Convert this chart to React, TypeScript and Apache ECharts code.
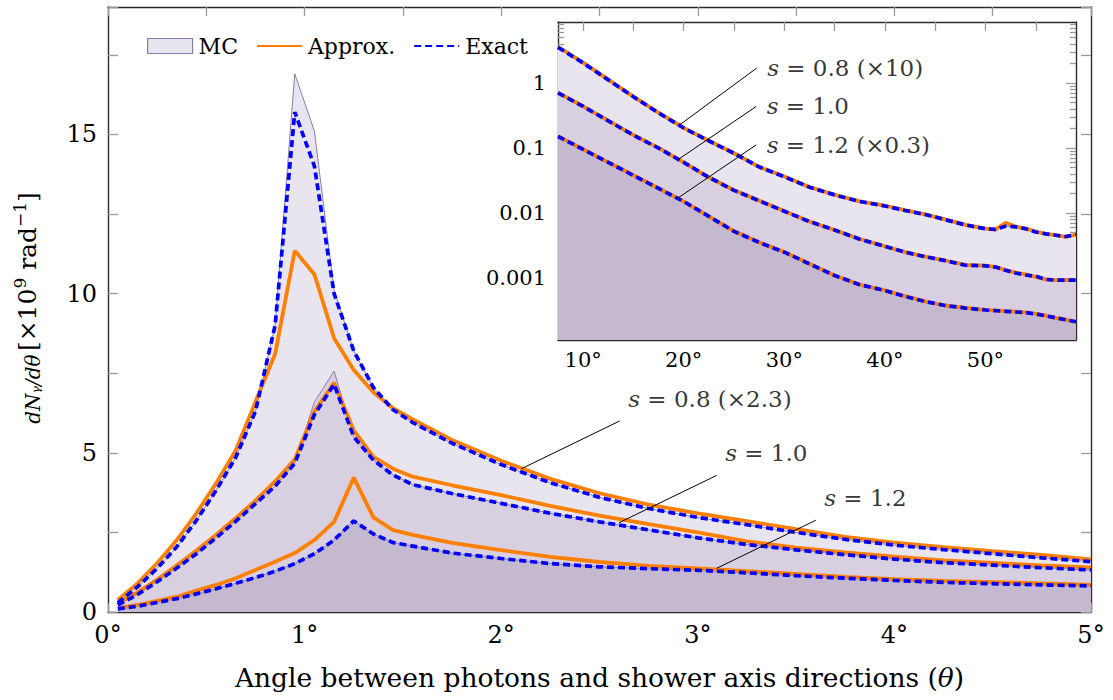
import React, { useEffect, useRef } from "react";
import * as echarts from "echarts";

const FONT = '"DejaVu Serif", "Liberation Serif", serif';

// ---------------- main panel data (theta in degrees, dN/dθ in 1e9 rad^-1)
const theta = [0.05, 0.15, 0.25, 0.35, 0.45, 0.55, 0.65, 0.75, 0.85, 0.95, 1.05, 1.15, 1.25, 1.35, 1.45, 1.55, 1.75, 2.0, 2.25, 2.5, 2.75, 3.0, 3.25, 3.5, 3.75, 4.0, 4.25, 4.5, 4.75, 5.0];

const mc08 = [0.29, 0.79, 1.37, 2.05, 2.88, 3.82, 4.86, 6.3, 9.0, 16.9, 15.1, 10.1, 8.2, 7.05, 6.35, 5.95, 5.3, 4.63, 4.06, 3.6, 3.25, 2.97, 2.74, 2.5, 2.28, 2.1, 1.96, 1.83, 1.7, 1.58];
const approx08 = [0.38, 0.9, 1.53, 2.26, 3.1, 4.04, 5.08, 6.6, 8.1, 11.35, 10.6, 8.6, 7.6, 6.9, 6.4, 6.05, 5.4, 4.75, 4.18, 3.73, 3.37, 3.1, 2.85, 2.6, 2.36, 2.18, 2.04, 1.91, 1.79, 1.65];
const exact08 = [0.29, 0.79, 1.37, 2.05, 2.88, 3.82, 4.86, 6.3, 9.0, 15.7, 14.0, 10.0, 8.2, 7.05, 6.35, 5.95, 5.3, 4.63, 4.06, 3.6, 3.25, 2.97, 2.74, 2.5, 2.28, 2.1, 1.96, 1.83, 1.7, 1.58];

const mc10 = [0.22, 0.55, 0.95, 1.38, 1.83, 2.33, 2.85, 3.4, 3.95, 4.67, 6.6, 7.56, 5.5, 4.77, 4.3, 4.0, 3.72, 3.41, 3.1, 2.83, 2.58, 2.33, 2.12, 1.95, 1.8, 1.66, 1.55, 1.47, 1.39, 1.32];
const approx10 = [0.27, 0.62, 1.02, 1.47, 1.93, 2.43, 2.95, 3.5, 4.1, 4.8, 6.3, 7.2, 5.7, 4.87, 4.5, 4.25, 3.98, 3.67, 3.33, 3.03, 2.76, 2.5, 2.22, 2.02, 1.87, 1.74, 1.62, 1.54, 1.46, 1.4];
const exact10 = [0.22, 0.55, 0.95, 1.38, 1.83, 2.33, 2.85, 3.4, 3.95, 4.67, 6.2, 7.15, 5.5, 4.77, 4.3, 4.0, 3.72, 3.41, 3.1, 2.83, 2.58, 2.33, 2.12, 1.95, 1.8, 1.66, 1.55, 1.47, 1.39, 1.32];

const mc12 = [0.1, 0.18, 0.3, 0.42, 0.57, 0.73, 0.9, 1.08, 1.28, 1.52, 1.83, 2.26, 2.86, 2.45, 2.18, 2.07, 1.85, 1.68, 1.52, 1.42, 1.36, 1.31, 1.23, 1.14, 1.06, 0.99, 0.93, 0.89, 0.85, 0.82];
const approx12 = [0.12, 0.22, 0.35, 0.48, 0.67, 0.85, 1.06, 1.32, 1.58, 1.85, 2.26, 2.83, 4.22, 2.97, 2.57, 2.42, 2.17, 1.94, 1.73, 1.57, 1.45, 1.37, 1.28, 1.2, 1.1, 1.03, 0.98, 0.94, 0.9, 0.85];
const exact12 = [0.1, 0.18, 0.3, 0.42, 0.57, 0.73, 0.9, 1.08, 1.28, 1.52, 1.83, 2.26, 2.86, 2.45, 2.18, 2.07, 1.85, 1.68, 1.52, 1.42, 1.36, 1.31, 1.23, 1.14, 1.06, 0.99, 0.93, 0.89, 0.85, 0.82];

const mainX = { min: 0, max: 5, step: 0.5 };
const mainY = { min: 0, max: 19, step: 2.5 };

// annotation pins on the main panel: [start on curve, label anchor]
const mainPins = [
  { label: "0.8 (×2.3)", from: [2.103, 4.5], to: [2.603, 6.0] },
  { label: "1.0", from: [2.598, 2.8], to: [3.096, 4.29] },
  { label: "1.2", from: [3.095, 1.37], to: [3.6, 2.88] },
];

// ---------------- inset data (theta in degrees, log scale)
const insetTheta = [7.5, 10, 12.5, 15, 17.5, 20, 22.5, 25, 27.5, 30, 32.5, 35, 37.5, 40, 42, 44, 46, 48, 50, 51, 52, 53, 54, 55, 56, 57, 58, 59];

const insetExact08 = [3.55, 2.04, 1.12, 0.617, 0.347, 0.204, 0.129, 0.0832, 0.0513, 0.0363, 0.0251, 0.0191, 0.0151, 0.0129, 0.011, 0.00955, 0.00794, 0.0066, 0.00575, 0.00562, 0.0063, 0.00617, 0.00575, 0.00513, 0.00479, 0.00457, 0.00437, 0.00468];
const insetApprox08 = [3.6, 2.06, 1.13, 0.62, 0.35, 0.205, 0.13, 0.0835, 0.0515, 0.0365, 0.0252, 0.0192, 0.0152, 0.013, 0.0111, 0.0096, 0.008, 0.0066, 0.0058, 0.0056, 0.00708, 0.0062, 0.0058, 0.0052, 0.0048, 0.0046, 0.0043, 0.0047];
const insetExact10 = [0.708, 0.437, 0.263, 0.158, 0.1, 0.0603, 0.0355, 0.0224, 0.0155, 0.0107, 0.00741, 0.0055, 0.00398, 0.00309, 0.00251, 0.00214, 0.00186, 0.00158, 0.00155, 0.00148, 0.00132, 0.0012, 0.00112, 0.00107, 0.000955, 0.000933, 0.000933, 0.000933];
const insetApprox10 = [0.715, 0.44, 0.265, 0.159, 0.101, 0.0605, 0.0356, 0.0225, 0.0156, 0.0108, 0.00745, 0.0055, 0.004, 0.0031, 0.00252, 0.00215, 0.00187, 0.0016, 0.00156, 0.00149, 0.00133, 0.00122, 0.00114, 0.00105, 0.00096, 0.00093, 0.00094, 0.00093];
const insetExact12 = [0.151, 0.0955, 0.0603, 0.038, 0.024, 0.0151, 0.00891, 0.00525, 0.00355, 0.00251, 0.00166, 0.0011, 0.000794, 0.000646, 0.000525, 0.000437, 0.00038, 0.000347, 0.000324, 0.000316, 0.000309, 0.000302, 0.000295, 0.000282, 0.000263, 0.000245, 0.000229, 0.000214];
const insetApprox12 = [0.153, 0.096, 0.0605, 0.0382, 0.0241, 0.0152, 0.0089, 0.0053, 0.00357, 0.00252, 0.00167, 0.0011, 0.0008, 0.00065, 0.00053, 0.00044, 0.00038, 0.00035, 0.000325, 0.00032, 0.00031, 0.000305, 0.000297, 0.000282, 0.000265, 0.000246, 0.00023, 0.000212];

const insetX = { min: 7.5, max: 59 };
const insetXTicks = [10, 15, 20, 25, 30, 35, 40, 45, 50, 55];
const insetXLabels = [10, 20, 30, 40, 50];
const insetY = { min: 1.12e-4, max: 8.7 };
const insetYTicks = [0.001, 0.01, 0.1, 1];
const insetYTickLabels = ["0.001", "0.01", "0.1", "1"];

const insetPins = [
  { label: "0.8 (×10)", from: [19.6, 0.228], to: [27.25, 1.7] },
  { label: "1.0", from: [19.4, 0.066], to: [27.2, 0.437] },
  { label: "1.2 (×0.3)", from: [19.4, 0.017], to: [27.2, 0.112] },
];

// ---------------- styles
const FILL = ["#e9e5ee", "#d8d0e0", "#c5b9d0"];
const MC_LINE = "#8a7caa";
const ORANGE = "#ff8000";
const BLUE = "#0000ff";
const AXIS_COLOR = "#2b2b2b";
const TICK_COLOR = "#999999";

const lg = Math.log10;
const pairs = (xs: number[], ys: number[], f: (v: number) => number = (v) => v) =>
  xs.map((x, i) => [x, f(ys[i])]);

function buildOption() {
  const axisLine = { show: true, onZero: false, lineStyle: { color: AXIS_COLOR, width: 1.4 } };
  const tick = (len: number) => ({ show: true, inside: true, length: len, lineStyle: { color: TICK_COLOR, width: 1.3 } });

  const minorLog: number[] = [];
  for (let d = -4; d <= 0; d++) {
    for (let k = 2; k <= 9; k++) {
      const v = k * Math.pow(10, d);
      if (v > insetY.min && v < insetY.max) minorLog.push(lg(v));
    }
  }
  const majorLog = insetYTicks.map(lg);

  const mc = (xs: number[], ys: number[], fill: string, xi: number, yi: number, f?: (v: number) => number) => ({
    type: "line",
    name: "MC",
    data: pairs(xs, ys, f),
    xAxisIndex: xi,
    yAxisIndex: yi,
    symbol: "none",
    silent: true,
    z: 1,
    itemStyle: { color: fill },
    lineStyle: { color: MC_LINE, width: 1 },
    areaStyle: { color: fill, opacity: 1, origin: "start" },
  });
  const approx = (xs: number[], ys: number[], xi: number, yi: number, f?: (v: number) => number) => ({
    type: "line",
    name: "Approx.",
    data: pairs(xs, ys, f),
    xAxisIndex: xi,
    yAxisIndex: yi,
    symbol: "none",
    silent: true,
    z: 3,
    itemStyle: { color: ORANGE },
    lineStyle: { color: ORANGE, width: 3.8 },
  });
  const exact = (xs: number[], ys: number[], xi: number, yi: number, f?: (v: number) => number) => ({
    type: "line",
    name: "Exact",
    data: pairs(xs, ys, f),
    xAxisIndex: xi,
    yAxisIndex: yi,
    symbol: "none",
    silent: true,
    z: 4,
    itemStyle: { color: BLUE },
    lineStyle: { color: BLUE, width: 3.7, type: [7, 4] },
  });

  const labelStyle = (size: number) => ({
    fontFamily: FONT,
    fontSize: size,
    color: "#000",
    rich: { i: { fontFamily: FONT, fontSize: size, fontStyle: "italic", color: "#000" } },
  });

  const pinSeries: any[] = [];
  mainPins.forEach((p) => {
    pinSeries.push({
      type: "line",
      data: [p.from, p.to],
      xAxisIndex: 0,
      yAxisIndex: 0,
      symbol: "none",
      silent: true,
      z: 6,
      lineStyle: { color: "#000", width: 1 },
    });
    pinSeries.push({
      type: "scatter",
      data: [p.to],
      xAxisIndex: 0,
      yAxisIndex: 0,
      symbolSize: 1,
      silent: true,
      z: 6,
      itemStyle: { color: "rgba(0,0,0,0)" },
      label: { show: true, position: "right", distance: 5, offset: [3, -22], formatter: `{i|s} = ${p.label}`, ...labelStyle(23) },
    });
  });
  insetPins.forEach((p) => {
    pinSeries.push({
      type: "line",
      data: [[p.from[0], lg(p.from[1])], [p.to[0], lg(p.to[1])]],
      xAxisIndex: 2,
      yAxisIndex: 2,
      symbol: "none",
      silent: true,
      z: 6,
      lineStyle: { color: "#000", width: 1 },
    });
    pinSeries.push({
      type: "scatter",
      data: [[p.to[0], lg(p.to[1])]],
      xAxisIndex: 2,
      yAxisIndex: 2,
      symbolSize: 1,
      silent: true,
      z: 6,
      itemStyle: { color: "rgba(0,0,0,0)" },
      label: { show: true, position: "right", distance: 5, offset: [5, 0], formatter: `{i|s} = ${p.label}`, ...labelStyle(23) },
    });
  });

  return {
    animation: false,
    backgroundColor: "#ffffff",
    textStyle: { fontFamily: FONT },
    grid: [
      { left: 108, right: 22, top: 7, bottom: 88, containLabel: false },
      { left: 558, right: 37, top: 22, bottom: 360, show: true, backgroundColor: "#ffffff", borderWidth: 0 },
    ],
    legend: {
      left: 147,
      top: 35,
      padding: 0,
      itemWidth: 45,
      itemHeight: 15,
      itemGap: 18,
      selectedMode: false,
      textStyle: { fontFamily: FONT, fontSize: 22, color: "#000", padding: [0, 0, 0, 1] },
      data: [
        { name: "MC", icon: "rect", itemStyle: { color: FILL[0], borderColor: MC_LINE, borderWidth: 1.2 } },
        { name: "Approx.", itemStyle: { opacity: 0 } },
        { name: "Exact", itemStyle: { opacity: 0 } },
      ],
    },
    xAxis: [
      {
        gridIndex: 0, type: "value", position: "bottom", min: mainX.min, max: mainX.max, interval: mainX.step,
        axisLine, axisTick: tick(9), splitLine: { show: false },
        axisLabel: {
          margin: 11, fontFamily: FONT, fontSize: 24, color: "#000",
          formatter: (v: number) => (Math.abs(v - Math.round(v)) < 1e-9 ? `${Math.round(v)}°` : ""),
        },
        name: "Angle between photons and shower axis directions ({i|θ})",
        nameLocation: "middle",
        nameGap: 52,
        nameTextStyle: { fontFamily: FONT, fontSize: 26.5, color: "#000", rich: { i: { fontFamily: FONT, fontSize: 26.5, fontStyle: "italic", color: "#000" } } },
      },
      {
        gridIndex: 0, type: "value", position: "top", min: mainX.min, max: mainX.max, interval: mainX.step,
        axisLine, axisTick: tick(9), axisLabel: { show: false }, splitLine: { show: false },
      },
      {
        gridIndex: 1, type: "value", position: "bottom", min: insetX.min, max: insetX.max,
        axisLine, splitLine: { show: false },
        axisTick: { ...tick(9), customValues: insetXTicks },
        axisLabel: { customValues: insetXLabels, margin: 9, fontFamily: FONT, fontSize: 21, color: "#000", formatter: (v: number) => `${v}°` },
      },
      {
        gridIndex: 1, type: "value", position: "top", min: insetX.min, max: insetX.max,
        axisLine, splitLine: { show: false },
        axisTick: { ...tick(9), customValues: insetXTicks },
        axisLabel: { show: false },
      },
    ],
    yAxis: [
      {
        gridIndex: 0, type: "value", position: "left", min: mainY.min, max: mainY.max, interval: mainY.step,
        axisLine, axisTick: tick(10), splitLine: { show: false },
        axisLabel: {
          margin: 11, fontFamily: FONT, fontSize: 24, color: "#000",
          formatter: (v: number) => (Math.abs(v / 5 - Math.round(v / 5)) < 1e-9 ? `${v}` : ""),
        },
      },
      {
        gridIndex: 0, type: "value", position: "right", min: mainY.min, max: mainY.max, interval: mainY.step,
        axisLine, axisTick: tick(10), splitLine: { show: false }, axisLabel: { show: false },
      },
      {
        gridIndex: 1, type: "value", position: "left", min: lg(insetY.min), max: lg(insetY.max),
        axisLine, splitLine: { show: false },
        axisTick: { ...tick(10), customValues: majorLog },
        axisLabel: {
          customValues: majorLog, margin: 12, fontFamily: FONT, fontSize: 21, color: "#000",
          formatter: (v: number) => {
            const i = majorLog.findIndex((m) => Math.abs(m - v) < 1e-6);
            return i >= 0 ? insetYTickLabels[i] : "";
          },
        },
      },
      {
        gridIndex: 1, type: "value", position: "right", min: lg(insetY.min), max: lg(insetY.max),
        axisLine, splitLine: { show: false },
        axisTick: { ...tick(10), customValues: majorLog }, axisLabel: { show: false },
      },
      {
        gridIndex: 1, type: "value", position: "left", min: lg(insetY.min), max: lg(insetY.max),
        axisLine: { show: false, onZero: false }, splitLine: { show: false },
        axisTick: { ...tick(6), customValues: minorLog }, axisLabel: { show: false },
      },
      {
        gridIndex: 1, type: "value", position: "right", min: lg(insetY.min), max: lg(insetY.max),
        axisLine: { show: false, onZero: false }, splitLine: { show: false },
        axisTick: { ...tick(6), customValues: minorLog }, axisLabel: { show: false },
      },
    ],
    series: [
      mc(theta, mc08, FILL[0], 0, 0),
      mc(theta, mc10, FILL[1], 0, 0),
      mc(theta, mc12, FILL[2], 0, 0),
      approx(theta, approx08, 0, 0),
      approx(theta, approx10, 0, 0),
      approx(theta, approx12, 0, 0),
      exact(theta, exact08, 0, 0),
      exact(theta, exact10, 0, 0),
      exact(theta, exact12, 0, 0),
      mc(insetTheta, insetExact08, FILL[0], 2, 2, lg),
      mc(insetTheta, insetExact10, FILL[1], 2, 2, lg),
      mc(insetTheta, insetExact12, FILL[2], 2, 2, lg),
      approx(insetTheta, insetApprox08, 2, 2, lg),
      approx(insetTheta, insetApprox10, 2, 2, lg),
      approx(insetTheta, insetApprox12, 2, 2, lg),
      exact(insetTheta, insetExact08, 2, 2, lg),
      exact(insetTheta, insetExact10, 2, 2, lg),
      exact(insetTheta, insetExact12, 2, 2, lg),
      ...pinSeries,
    ],
    graphic: [
      {
        type: "text",
        x: 27,
        y: 308,
        rotation: Math.PI / 2,
        style: {
          text: "{a|dNᵧ/dθ} {b|[×10}{s|9}{b| rad}{s|−1}{b|]}",
          align: "center",
          verticalAlign: "middle",
          rich: {
            a: { fontFamily: FONT, fontSize: 20, fontStyle: "italic", fill: "#000", lineHeight: 32, verticalAlign: "bottom" },
            b: { fontFamily: FONT, fontSize: 25, fill: "#000", lineHeight: 32, verticalAlign: "middle" },
            s: { fontFamily: FONT, fontSize: 17, fill: "#000", lineHeight: 32, verticalAlign: "top" },
          },
        },
      },
    ],
  };
}

export default function App() {
  const ref = useRef<HTMLDivElement | null>(null);
  useEffect(() => {
    if (!ref.current) return;
    const chart = echarts.init(ref.current, undefined, { renderer: "svg" });
    chart.setOption(buildOption() as any);
    return () => chart.dispose();
  }, []);
  return (
    <div
      ref={ref}
      style={{ position: "fixed", left: 0, top: 0, width: 1113, height: 700, background: "#fff" }}
    />
  );
}
